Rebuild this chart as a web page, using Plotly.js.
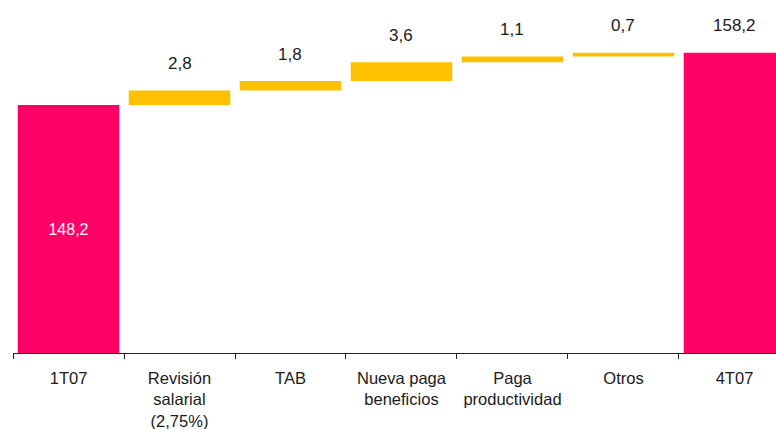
<!DOCTYPE html>
<html>
<head>
<meta charset="utf-8">
<script src="https://cdn.plot.ly/plotly-3.0.1.min.js"></script>
<style>
  html, body { margin: 0; padding: 0; background: #fff; overflow: hidden; }
  #chart { width: 776px; height: 429px; }
</style>
</head>
<body>
<div id="chart"></div>
<script>
// Staff cost bridge 1T07 -> 4T07 (millions)
const categories = ["1T07", "Revisión<br>salarial<br>(2,75%)", "TAB", "Nueva paga<br>beneficios", "Paga<br>productividad", "Otros", "4T07"];
const values = [148.2, 2.8, 1.8, 3.6, 1.1, 0.7, 158.2];
const labels = ["148,2", "2,8", "1,8", "3,6", "1,1", "0,7", "158,2"];
const kinds = ["total", "step", "step", "step", "step", "step", "total"];

const axisMin = 100.8;
const axisMax = 168.3;

// Floating bars: totals rise from the axis floor, steps sit on the running sum
const bases = [];
const heights = [];
let running = 0;
values.forEach((v, i) => {
  if (kinds[i] === "total") {
    bases.push(axisMin);
    heights.push(v - axisMin);
    running = v;
  } else {
    bases.push(running);
    heights.push(v);
    running += v;
  }
});

const colors = kinds.map(k => k === "total" ? "#FF0066" : "#FFC000");
const insideText = labels.map((t, i) => i === 0 ? t : "");
const fontFamily = "Arial, 'Liberation Sans', sans-serif";

const trace = {
  type: "bar",
  x: categories,
  y: heights,
  base: bases,
  marker: { color: colors, line: { width: 0 } },
  width: 0.915,
  text: insideText,
  textposition: "inside",
  insidetextanchor: "middle",
  textfont: { family: fontFamily, size: 16, color: "#ffffff" },
  hoverinfo: "skip",
  cliponaxis: true
};

// Value labels above every bar except the first (labelled inside)
const annotations = [];
values.forEach((v, i) => {
  if (i === 0) return;
  annotations.push({
    x: categories[i],
    y: bases[i] + heights[i],
    text: labels[i],
    showarrow: false,
    yanchor: "middle",
    yshift: 27,
    font: { family: fontFamily, size: 17, color: "#1a1a1a" }
  });
});

const layout = {
  width: 776,
  height: 429,
  margin: { l: 13, r: 0, t: 0, b: 76 },
  paper_bgcolor: "#ffffff",
  plot_bgcolor: "#ffffff",
  showlegend: false,
  xaxis: {
    type: "category",
    range: [-0.5, 6.374],
    showline: true,
    linecolor: "#222222",
    linewidth: 1,
    ticks: "outside",
    tickson: "boundaries",
    ticklen: 5,
    tickcolor: "#222222",
    ticklabelstandoff: 10,
    showgrid: false,
    zeroline: false,
    tickfont: { family: fontFamily, size: 16.5, color: "#1a1a1a" },
    fixedrange: true
  },
  yaxis: {
    range: [axisMin, axisMax],
    visible: false,
    showgrid: false,
    zeroline: false,
    fixedrange: true
  },
  annotations: annotations
};

Plotly.newPlot("chart", [trace], layout, { staticPlot: true, displayModeBar: false });
</script>
</body>
</html>
